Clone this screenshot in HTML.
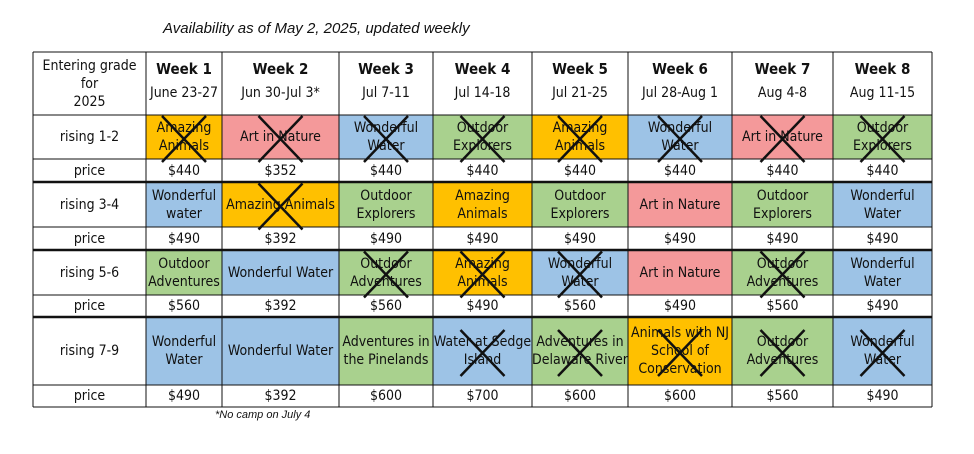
<!DOCTYPE html>
<html><head><meta charset="utf-8">
<style>
body{margin:0;width:974px;height:454px;background:#fff;position:relative;overflow:hidden;font-family:"Liberation Sans Narrow","DejaVu Sans Condensed","Liberation Sans",sans-serif;}
.c{position:absolute;box-sizing:border-box;display:flex;align-items:center;justify-content:center;text-align:center;font-size:14px;line-height:18px;color:#111;}
.c span{display:inline-block;}
#title{position:absolute;left:163px;top:20px;font:italic 15px "Liberation Sans",sans-serif;color:#111;}
#foot{position:absolute;left:215px;top:409px;font:italic 11px "Liberation Sans",sans-serif;color:#111;}
svg{position:absolute;left:0;top:0;}
</style></head><body>
<div id="title">Availability as of May 2, 2025, updated weekly</div>
<div id="foot">*No camp on July 4</div>
<div id="tbl"></div>
<svg id="lines" width="974" height="454"></svg>
<script>
const weeks=["Week 1","Week 2","Week 3","Week 4","Week 5","Week 6","Week 7","Week 8"];
const dates=["June 23-27","Jun 30-Jul 3*","Jul 7-11","Jul 14-18","Jul 21-25","Jul 28-Aug 1","Aug 4-8","Aug 11-15"];
const grades=["rising 1-2","rising 3-4","rising 5-6","rising 7-9"];
const camps=[
["Amazing Animals","Art in Nature","Wonderful Water","Outdoor Explorers","Amazing Animals","Wonderful Water","Art in Nature","Outdoor Explorers"],
["Wonderful water","Amazing Animals","Outdoor Explorers","Amazing Animals","Outdoor Explorers","Art in Nature","Outdoor Explorers","Wonderful Water"],
["Outdoor Adventures","Wonderful Water","Outdoor Adventures","Amazing Animals","Wonderful Water","Art in Nature","Outdoor Adventures","Wonderful Water"],
["Wonderful Water","Wonderful Water","Adventures in the Pinelands","Water at Sedge Island","Adventures in Delaware River","Animals with NJ School of Conservation","Outdoor Adventures","Wonderful Water"]];
const kinds=[["o","p","b","g","o","b","p","g"],["b","o","g","o","g","p","g","b"],["g","b","g","o","b","p","g","b"],["b","b","g","b","g","o","g","b"]];
const prices=[[440,352,440,440,440,440,440,440],[490,392,490,490,490,490,490,490],[560,392,560,490,560,490,560,490],[490,392,600,700,600,600,560,490]];
const full=[[1,1,1,1,1,1,1,1],[0,1,0,0,0,0,0,0],[0,0,1,1,1,0,1,0],[0,0,0,1,1,1,1,1]];
const colors={o:"#FFC000",p:"#F4999A",b:"#9DC3E6",g:"#A9D18E"};
const xs=[33,146,222,339,433,532,628,732,833,932];
const rowTops=[115,182,250,317];const rowBots=[159,227,295,385];const priceBots=[182,250,317,407];
const tbl=document.getElementById('tbl');const svg=document.getElementById('lines');const NS="http://www.w3.org/2000/svg";
function cell(x,y,w,h,html,bg,name,bold){const d=document.createElement('div');d.className='c';


d.style.left=x+'px';d.style.top=y+'px';d.style.width=w+'px';d.style.height=h+'px';if(bg)d.style.background=bg;d.innerHTML='<span>'+html+'</span>';tbl.appendChild(d);return d;}
function line(x1,y1,x2,y2,w,name){const l=document.createElementNS(NS,'line');


l.setAttribute('x1',x1);l.setAttribute('y1',y1);l.setAttribute('x2',x2);l.setAttribute('y2',y2);l.setAttribute('stroke','#111');l.setAttribute('stroke-width',w);svg.appendChild(l);}
cell(xs[0],52,xs[1]-xs[0],63,'Entering grade for<br>2025',null,'grade-header');
weeks.forEach((w,i)=>cell(xs[i+1],52,xs[i+2]-xs[i+1],63,'<b style="font-size:15px">'+w+'</b><br><span style="line-height:28px">'+dates[i]+'</span>',null,'week-header-'+(i+1)));
grades.forEach((g,r)=>{
cell(xs[0],rowTops[r],xs[1]-xs[0],rowBots[r]-rowTops[r],g,null,'grade-label');
cell(xs[0],rowBots[r],xs[1]-xs[0],priceBots[r]-rowBots[r],'price',null,'price-label');
for(let i=0;i<8;i++){const x=xs[i+1],w=xs[i+2]-x;
cell(x,rowTops[r],w,rowBots[r]-rowTops[r],camps[r][i],colors[kinds[r][i]],'camp-cell');
cell(x,rowBots[r],w,priceBots[r]-rowBots[r],'$'+prices[r][i],null,'price-cell');
if(full[r][i]){const cx=x+w/2,cy=(rowTops[r]+rowBots[r])/2+2,hx=22,hy=23;
line(cx-hx,cy-hy,cx+hx,cy+hy,2.5,'sold-out-cross');line(cx-hx,cy+hy,cx+hx,cy-hy,2.5,'sold-out-cross');}}
});
xs.forEach(x=>line(x,52,x,407,1,'grid-vline'));
line(33,52,932,52,1,'grid-hline');line(33,115,932,115,1,'grid-hline');
grades.forEach((g,r)=>{line(33,rowBots[r],932,rowBots[r],1,'grid-hline');line(33,priceBots[r],932,priceBots[r],r<3?2.5:1,'grid-hline');});
</script>
</body></html>
